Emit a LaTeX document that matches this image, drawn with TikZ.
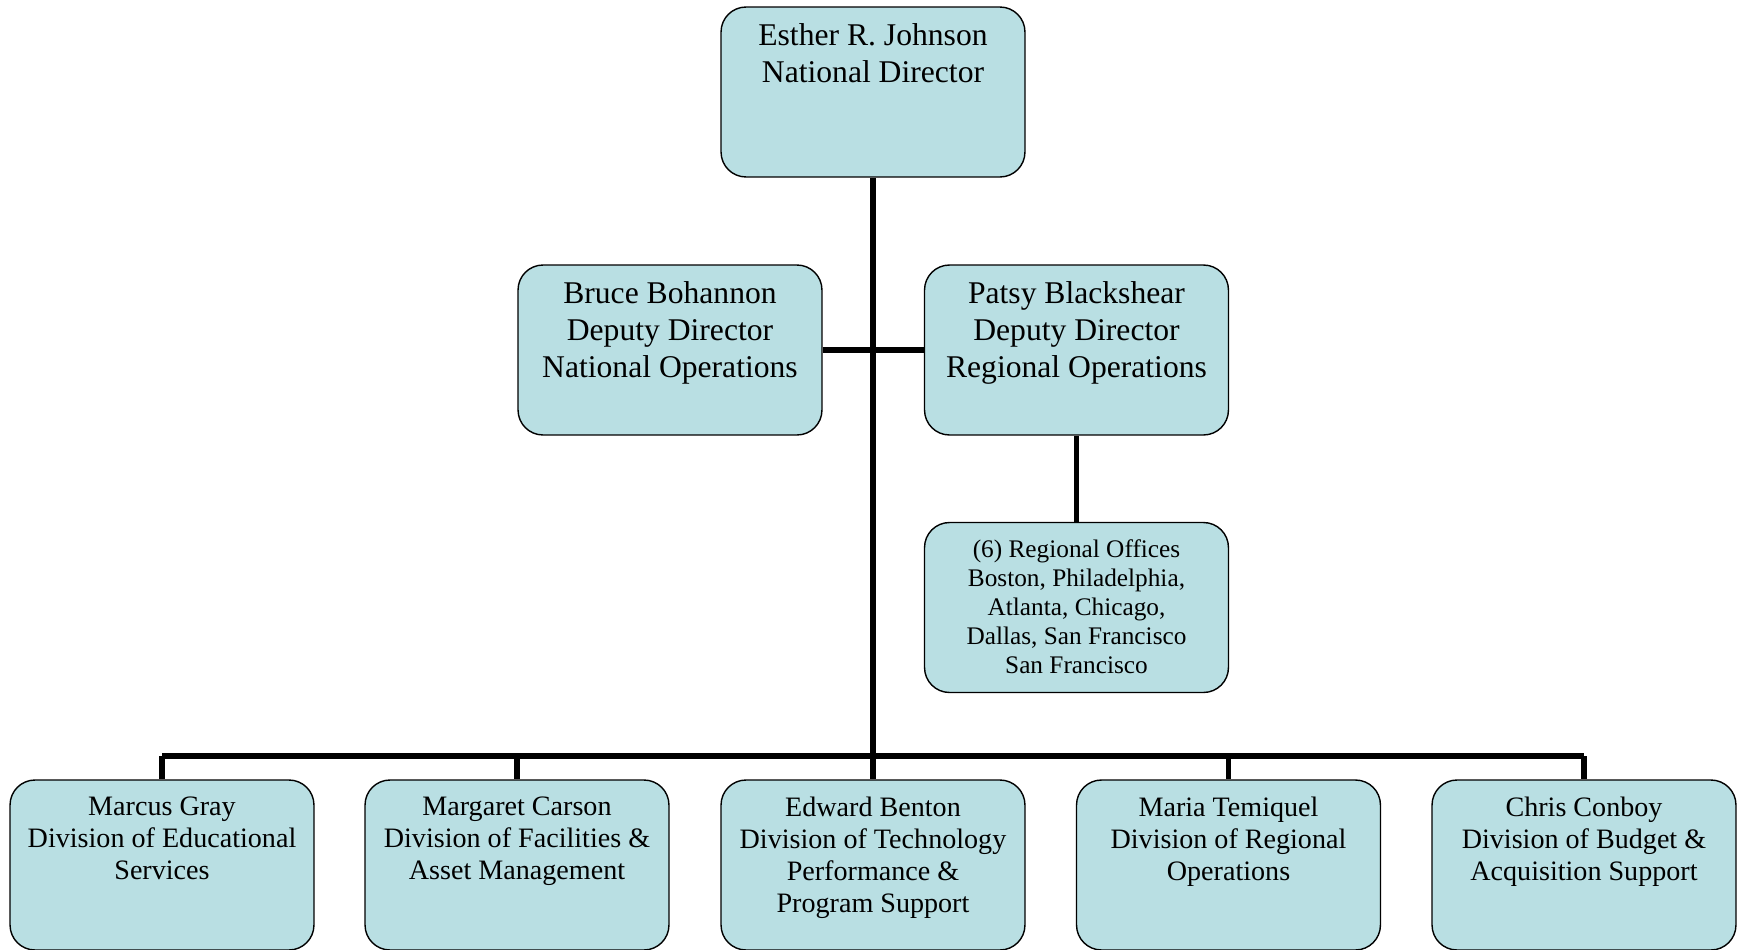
\documentclass[tikz,border=0pt]{standalone}
\usepackage{fontspec}
\setmainfont{Liberation Serif}
\usepackage{xcolor}
\usetikzlibrary{positioning}

\definecolor{unitblue}{RGB}{185,223,227}
\newcommand{\unittext}[1]{\parbox[c][2.72cm][t]{6cm}{\centering #1}}

\begin{document}
\begin{tikzpicture}[x=0.02cm, y=-0.02cm,
    unit/.style={draw, line width=0.8pt, rounded corners=0.5cm, fill=unitblue,
      minimum width=6.08cm, minimum height=3.4cm, inner xsep=0.04cm, inner ysep=0.34cm},
    bigtext/.style={font=\fontsize{18}{20.8}\selectfont},
    divtext/.style={font=\fontsize{16}{18.3}\selectfont},
    citytext/.style={font=\fontsize{14.4}{16.5}\selectfont},
    link/.style={line width=3.2pt}]
    \useasboundingbox (0,0) rectangle (1739,950);

    % Director and deputies
    \node[unit, bigtext] (esther) at (873,92) {\unittext{Esther R. Johnson\\National Director}};
    \node[unit, bigtext] (bruce) at (670,350) {\unittext{Bruce Bohannon\\Deputy Director\\National Operations}};
    \node[unit, bigtext] (patsy) at (1076.5,350) {\unittext{Patsy Blackshear\\Deputy Director\\Regional Operations}};
    \node[unit, citytext] (regions) at (1076.5,607.5) {\unittext{(6) Regional Offices\\Boston, Philadelphia,\\Atlanta, Chicago,\\Dallas, San Francisco\\San Francisco}};

    % Divisions
    \node[unit, divtext] (marcus) at (162,865) {\unittext{Marcus Gray\\Division of Educational\\Services}};
    \node[unit, divtext] (margaret) at (517,865) {\unittext{Margaret Carson\\Division of Facilities \&\\Asset Management}};
    \node[unit, divtext] (edward) at (873,865) {\unittext{Edward Benton\\Division of Technology\\Performance \&\\Program Support}};
    \node[unit, divtext] (maria) at (1228.5,865) {\unittext{Maria Temiquel\\Division of Regional\\Operations}};
    \node[unit, divtext] (chris) at (1584,865) {\unittext{Chris Conboy\\Division of Budget \&\\Acquisition Support}};

    % Connectors
    \coordinate (bus) at (873,756);
    \draw[link] (esther.south) -- (bus);
    \draw[link] (bruce.east) -- (patsy.west);
    \draw[link] (patsy.south) -- (regions.north);
    \draw[link] (marcus.north |- bus) -- (chris.north |- bus);
    \foreach \d in {marcus,margaret,edward,maria,chris}
        \draw[link] (\d.north |- bus) -- (\d.north);
\end{tikzpicture}
\end{document}
